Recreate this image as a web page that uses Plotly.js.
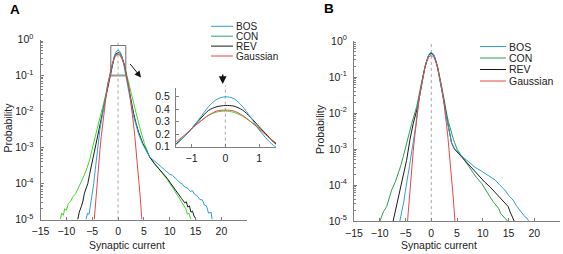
<!DOCTYPE html>
<html>
<head>
<meta charset="utf-8">
<script src="https://cdn.plot.ly/plotly-3.0.1.min.js"></script>
<style>
  html, body { margin: 0; padding: 0; background: #ffffff; }
  #chart { width: 563px; height: 254px; }
</style>
</head>
<body>
<div id="chart"></div>
<script>
// ---------------- DATA ----------------
const seriesNames = ['BOS', 'CON', 'REV', 'Gaussian'];

const xTickVals = [-15, -10, -5, 0, 5, 10, 15, 20];
const yTickVals = [1e-5, 1e-4, 1e-3, 1e-2, 1e-1, 1];
const yTickText = ['10<sup>-5</sup>', '10<sup>-4</sup>', '10<sup>-3</sup>', '10<sup>-2</sup>', '10<sup>-1</sup>', '10<sup>0</sup>'];
const insetYTickVals = [0.1, 0.2, 0.3, 0.4, 0.5];
const insetYTickText = ['0.1', '0.2', '0.3', '0.4', '0.5'];
const insetXTickVals = [-1, 0, 1];

// Gaussian reference (both panels)
const gaussX = [-4.6, -4.25, -4, -3.75, -3.5, -3.25, -3, -2.75, -2.5, -2.25, -2, -1.75, -1.5, -1.25, -1, -0.75, -0.5, -0.25, 0,
                0.25, 0.5, 0.75, 1, 1.25, 1.5, 1.75, 2, 2.25, 2.5, 2.75, 3, 3.25, 3.5, 3.75, 4, 4.25, 4.6];
const gaussY = [1.0e-5, 4.9e-5, 1.34e-4, 3.5e-4, 8.7e-4, 2.0e-3, 4.4e-3, 9.1e-3, 0.0175, 0.0317, 0.054, 0.086, 0.13, 0.183, 0.242, 0.301, 0.352, 0.386, 0.393,
                0.386, 0.352, 0.301, 0.242, 0.183, 0.13, 0.086, 0.054, 0.0317, 0.0175, 9.1e-3, 4.4e-3, 2.0e-3, 8.7e-4, 3.5e-4, 1.34e-4, 4.9e-5, 1.0e-5];

// Panel A
const aBosX = [-6.2, -5.9, -5.6, -5.3, -5.0, -4.7, -4.4, -4.1, -3.9, -3.5, -3.0, -2.5, -2.0, -1.5, -1.25, -1.0, -0.75, -0.5, -0.25, 0,
               0.25, 0.5, 0.75, 1.0, 1.25, 1.5, 2.0, 2.5, 3.0, 3.5, 4.0, 4.8, 5.5, 6.1, 6.6, 7.2, 7.7, 8.3, 9.0, 9.5, 10.0, 10.5, 10.9,
               11.4, 12.0, 12.5, 12.9, 13.4, 14.0, 14.4, 14.8, 15.3, 15.8, 16.3, 16.7, 17.1, 17.5, 18.0, 18.2];
const aBosY = [1.0e-5, 1.5e-5, 1.4e-5, 2.5e-5, 4.5e-5, 1.0e-4, 2.5e-4, 6.0e-4, 1.3e-3, 3.2e-3, 8.5e-3, 0.022, 0.055, 0.11, 0.17, 0.245, 0.33, 0.42, 0.48, 0.50,
               0.485, 0.425, 0.335, 0.235, 0.155, 0.095, 0.042, 0.017, 7.5e-3, 3.8e-3, 2.3e-3, 1.2e-3, 7.8e-4, 5.6e-4, 4.8e-4, 4.0e-4, 3.5e-4, 2.9e-4, 2.4e-4, 2.1e-4, 1.8e-4, 1.7e-4, 1.5e-4,
               1.25e-4, 1.05e-4, 9.5e-5, 8.0e-5, 7.5e-5, 6.0e-5, 6.3e-5, 5.0e-5, 4.6e-5, 3.6e-5, 3.5e-5, 2.5e-5, 2.4e-5, 1.5e-5, 1.6e-5, 1.0e-5];

const aConX = [-11.2, -10.9, -10.6, -10.3, -10.0, -9.6, -9.2, -8.7, -8.2, -7.8, -7.45, -7.0, -6.5, -6.0, -5.5, -4.9, -4.4, -3.9, -3.4, -3.05, -2.6, -2.3, -2.0, -1.65, -1.5,
               -1.25, -1.0, -0.75, -0.5, -0.25, 0, 0.25, 0.5, 0.75, 1.0, 1.25, 1.5,
               1.9, 2.55, 3.3, 4.15, 5.1, 6.1, 7.2, 8.4, 9.5, 10.6, 11.4, 12.2, 12.7, 13.1, 13.4, 13.7, 14.1];
const aConY = [1.0e-5, 1.5e-5, 1.3e-5, 2.0e-5, 1.8e-5, 2.8e-5, 3.2e-5, 4.3e-5, 5.2e-5, 7.0e-5, 8.1e-5, 1.2e-4, 1.75e-4, 2.7e-4, 4.5e-4, 1.05e-3, 2.0e-3, 3.8e-3, 7.0e-3, 0.011, 0.021, 0.033, 0.058, 0.093, 0.115,
               0.175, 0.245, 0.30, 0.35, 0.378, 0.385, 0.375, 0.345, 0.30, 0.25, 0.185, 0.125,
               0.08, 0.032, 0.011, 3.8e-3, 1.3e-3, 5.5e-4, 3.4e-4, 2.1e-4, 1.3e-4, 7.5e-5, 5.0e-5, 3.3e-5, 2.4e-5, 2.0e-5, 1.4e-5, 1.5e-5, 1.0e-5];

const aRevX = [-7.8, -7.5, -7.1, -6.8, -6.5, -6.2, -5.85, -5.5, -5.2, -4.9, -4.55, -4.2, -3.9, -3.25, -2.6, -2.0, -1.5,
               -1.25, -1.0, -0.75, -0.5, -0.25, 0, 0.25, 0.5, 0.75, 1.0, 1.25, 1.5,
               2.0, 2.5, 3.0, 3.5, 4.0, 4.8, 5.5, 6.1, 7.0, 7.7, 8.4, 9.0, 9.5, 10.1, 10.6, 11.2, 11.8, 12.3, 12.9, 13.2, 13.5, 13.8, 14.1, 14.4, 14.7, 15.1];
const aRevY = [1.0e-5, 1.6e-5, 2.3e-5, 3.2e-5, 5.4e-5, 7.5e-5, 1.0e-4, 1.8e-4, 2.9e-4, 5.2e-4, 8.5e-4, 1.5e-3, 2.5e-3, 7.2e-3, 0.021, 0.055, 0.115,
               0.17, 0.245, 0.32, 0.39, 0.42, 0.43, 0.425, 0.395, 0.335, 0.26, 0.19, 0.12,
               0.05, 0.02, 9.0e-3, 4.6e-3, 2.6e-3, 1.3e-3, 8.0e-4, 5.5e-4, 3.6e-4, 2.8e-4, 2.2e-4, 1.7e-4, 1.4e-4, 1.05e-4, 8.5e-5, 6.4e-5, 4.8e-5, 3.8e-5, 2.9e-5, 3.1e-5, 2.2e-5, 2.4e-5, 1.6e-5, 1.7e-5, 1.25e-5, 1.0e-5];

// Panel B
const bBosX = [-6.1, -5.8, -5.56, -5.3, -5.1, -4.8, -4.46, -4.2, -3.94, -3.36, -3.0, -2.5, -2.0, -1.5, -1.25, -1.0, -0.75, -0.5, -0.25, 0,
               0.25, 0.5, 0.75, 1.0, 1.25, 1.5, 2.0, 2.5, 3.0, 3.5, 3.96, 4.5, 5.26, 6.2, 7.2, 8.5, 9.8, 11.1, 12.4, 13.3, 14.3, 15.1, 15.9, 16.5, 17.2, 17.7, 18.2, 18.6, 18.9];
const bBosY = [1.0e-5, 1.5e-5, 2.5e-5, 3.6e-5, 5.9e-5, 1.0e-4, 2.1e-4, 3.5e-4, 6.2e-4, 1.8e-3, 4.5e-3, 0.02, 0.054, 0.115, 0.18, 0.25, 0.335, 0.41, 0.46, 0.48,
               0.46, 0.41, 0.33, 0.245, 0.17, 0.11, 0.05, 0.019, 7.2e-3, 2.9e-3, 1.45e-3, 1.05e-3, 7.8e-4, 5.8e-4, 4.5e-4, 3.1e-4, 2.4e-4, 1.8e-4, 1.38e-4, 1.0e-4, 7.2e-5, 5.0e-5, 3.8e-5, 2.7e-5, 2.0e-5, 1.6e-5, 1.3e-5, 1.2e-5, 1.0e-5];

const bConX = [-9.96, -9.6, -9.3, -8.66, -8.2, -7.7, -7.0, -6.4, -5.9, -5.43, -4.66, -3.8, -2.84, -2.3, -2.0, -1.5, -1.25, -1.0, -0.75, -0.5, -0.25, 0,
               0.25, 0.5, 0.75, 1.0, 1.25, 1.5, 2.0, 2.5, 3.0, 3.36, 4.33, 5.0, 5.95, 7.0, 7.9, 8.8, 9.8, 10.6, 11.4, 12.0, 12.7, 13.1, 13.5, 14.0, 14.3, 14.8];
const bConY = [1.0e-5, 1.4e-5, 1.8e-5, 2.5e-5, 4.0e-5, 7.2e-5, 1.2e-4, 2.1e-4, 3.5e-4, 6.2e-4, 1.8e-3, 5.1e-3, 0.0148, 0.032, 0.058, 0.125, 0.185, 0.25, 0.325, 0.39, 0.43, 0.44,
               0.43, 0.385, 0.325, 0.255, 0.19, 0.13, 0.06, 0.024, 9.5e-3, 5.5e-3, 1.8e-3, 1.0e-3, 6.2e-4, 3.8e-4, 2.6e-4, 1.6e-4, 1.1e-4, 7.0e-5, 4.7e-5, 3.5e-5, 2.5e-5, 2.2e-5, 1.6e-5, 1.3e-5, 1.15e-5, 1.0e-5];

const bRevX = [-7.4, -7.0, -6.7, -6.4, -6.1, -5.8, -5.43, -5.1, -4.78, -4.14, -3.5, -2.64, -2.0, -1.5, -1.25, -1.0, -0.75, -0.5, -0.25, 0,
               0.25, 0.5, 0.75, 1.0, 1.25, 1.5, 2.0, 2.5, 3.0, 3.5, 3.96, 4.5, 5.26, 6.2, 7.2, 8.3, 9.46, 10.4, 11.4, 12.3, 13.3, 14.0, 14.5, 14.95, 15.3, 15.8, 16.1];
const bRevY = [1.0e-5, 1.8e-5, 2.5e-5, 4.0e-5, 5.9e-5, 1.0e-4, 1.7e-4, 2.9e-4, 4.9e-4, 1.8e-3, 5.1e-3, 0.0148, 0.052, 0.12, 0.18, 0.25, 0.33, 0.40, 0.44, 0.455,
               0.44, 0.40, 0.33, 0.25, 0.175, 0.115, 0.052, 0.02, 7.5e-3, 3.0e-3, 1.45e-3, 1.0e-3, 7.6e-4, 5.5e-4, 4.0e-4, 2.6e-4, 1.7e-4, 1.2e-4, 8.9e-5, 6.5e-5, 4.7e-5, 3.5e-5, 2.9e-5, 2.5e-5, 1.8e-5, 1.3e-5, 1.0e-5];

// ---------------- STYLE ----------------
const FONT = 'Liberation Sans, Arial, Helvetica, sans-serif';
const colBOS = '#2f9fd8';
const colCONa = '#3fdc2a';
const colCONleg = '#2aa46a';
const colCONb = '#2e9e55';
const colREV = '#1a1a1a';
const colGauss = '#e8474a';
const axisGray = '#7f7f7f';
const dotGray = '#a8a8a8';

function tr(x, y, color, xa, ya, shape) {
  return { x: x, y: y, type: 'scatter', mode: 'lines', xaxis: xa, yaxis: ya,
           line: { color: color, width: 1, shape: shape || 'linear', smoothing: 0.8 },
           hoverinfo: 'skip', showlegend: false };
}

const traces = [
  // Panel A main
  tr(aConX, aConY, colCONa, 'x', 'y'),
  tr(aRevX, aRevY, colREV, 'x', 'y'),
  tr(aBosX, aBosY, colBOS, 'x', 'y'),
  tr(gaussX, gaussY, colGauss, 'x', 'y'),
  // Panel A inset
  tr(aConX, aConY, colCONa, 'x2', 'y2', 'spline'),
  tr(aRevX, aRevY, colREV, 'x2', 'y2', 'spline'),
  tr(aBosX, aBosY, colBOS, 'x2', 'y2', 'spline'),
  tr(gaussX, gaussY, colGauss, 'x2', 'y2', 'spline'),
  // Panel B
  tr(bConX, bConY, colCONb, 'x3', 'y3'),
  tr(bRevX, bRevY, colREV, 'x3', 'y3'),
  tr(bBosX, bBosY, colBOS, 'x3', 'y3'),
  tr(gaussX, gaussY, colGauss, 'x3', 'y3')
];

// minor log ticks
const minorVals = [];
for (let d = -5; d < 0; d++) for (let k = 2; k <= 9; k++) minorVals.push(k * Math.pow(10, d));

function mainX(domain, anchor) {
  return { domain: domain, anchor: anchor, range: [-15, 25], tickmode: 'array', tickvals: xTickVals,
           ticks: 'inside', ticklen: 3, tickcolor: axisGray, showline: true, linecolor: axisGray, linewidth: 1,
           showgrid: false, zeroline: false, tickfont: { family: FONT, size: 10.5, color: '#222' }, ticklabelstandoff: 2 };
}
function mainY(domain, anchor) {
  return { domain: domain, anchor: anchor, type: 'log', range: [-5, 0], tickmode: 'array', tickvals: yTickVals, ticktext: yTickText,
           ticks: 'inside', ticklen: 3, tickcolor: axisGray, showline: true, linecolor: axisGray, linewidth: 1,
           minor: { tickmode: 'array', tickvals: minorVals, ticks: 'inside', ticklen: 2, tickcolor: axisGray, showgrid: false },
           showgrid: false, zeroline: false, tickfont: { family: FONT, size: 10.5, color: '#222' }, ticklabelstandoff: 4 };
}

const W = 563, H = 254;
const px = v => v / W;
const py = v => (H - v) / H;

function label(text, x, y, size, angle) {
  return { text: text, xref: 'paper', yref: 'paper', x: px(x), y: py(y), xanchor: 'center', yanchor: 'middle',
           textangle: angle || 0, showarrow: false, borderpad: 0, font: { family: FONT, size: size, color: '#222' } };
}

const layout = {
  width: W, height: H,
  margin: { l: 0, r: 0, t: 0, b: 0, pad: 0 },
  paper_bgcolor: '#ffffff', plot_bgcolor: 'rgba(0,0,0,0)',
  font: { family: FONT, size: 10.5, color: '#222' },
  showlegend: false,
  xaxis: mainX([px(40.5), px(247.3)], 'y'),
  yaxis: mainY([py(219.5), py(39.5)], 'x'),
  xaxis2: { domain: [px(176), px(276)], anchor: 'y2', range: [-1.46, 1.5], tickmode: 'array', tickvals: insetXTickVals,
            ticks: 'inside', ticklen: 3, tickcolor: axisGray, showline: true, linecolor: axisGray, linewidth: 1,
            showgrid: false, zeroline: false, tickfont: { family: FONT, size: 10.5, color: '#222' }, ticklabelstandoff: 2 },
  yaxis2: { domain: [py(146.7), py(88)], anchor: 'x2', range: [0.1, 0.57], tickmode: 'array', tickvals: insetYTickVals, ticktext: insetYTickText,
            ticks: 'inside', ticklen: 3, tickcolor: axisGray, showline: true, linecolor: axisGray, linewidth: 1,
            showgrid: false, zeroline: false, tickfont: { family: FONT, size: 10.5, color: '#222' }, ticklabelstandoff: 3 },
  xaxis3: mainX([px(354), px(560)], 'y3'),
  yaxis3: mainY([py(221), py(41)], 'x3'),
  shapes: [
    // dotted zero lines
    { type: 'line', xref: 'x', yref: 'y domain', x0: 0, x1: 0, y0: 0, y1: 1, line: { color: dotGray, width: 1, dash: 'dot' }, layer: 'below' },
    { type: 'line', xref: 'x2', yref: 'y2 domain', x0: 0, x1: 0, y0: 0, y1: 1.05, line: { color: dotGray, width: 1, dash: 'dot' }, layer: 'below' },
    { type: 'line', xref: 'x3', yref: 'y3 domain', x0: 0, x1: 0, y0: 0, y1: 1, line: { color: dotGray, width: 1, dash: 'dot' }, layer: 'below' },
    // zoom box in A
    { type: 'rect', xref: 'x', yref: 'y', x0: -1.4, x1: 1.5, y0: 0.1, y1: 0.68, line: { color: '#707070', width: 1 } },
    { type: 'line', xref: 'x', yref: 'y', x0: -1.4, x1: 1.5, y0: 0.1, y1: 0.1, line: { color: '#9a9a9a', width: 2 } }
  ],
  annotations: [
    Object.assign(label('<b>A</b>', 15, 9.5, 13.5), { font: { family: FONT, size: 13.5, color: '#000' } }),
    Object.assign(label('<b>B</b>', 329, 8.5, 13.5), { font: { family: FONT, size: 13.5, color: '#000' } }),
    label('Synaptic current', 126.5, 244.5, 10.5),
    label('Synaptic current', 439, 244.5, 10.5),
    label('Probability', 7.5, 128, 10.5, -90),
    label('Probability', 320, 129, 10.5, -90),
    // diagonal arrow A
    { text: '', xref: 'x', yref: 'y', x: 4.45, y: Math.log10(0.088), axref: 'x', ayref: 'y', ax: 2.1, ay: Math.log10(0.23),
      showarrow: true, arrowhead: 2, arrowsize: 1.3, arrowwidth: 1, arrowcolor: '#111' },
    // vertical arrow over inset
    { text: '', xref: 'paper', yref: 'paper', x: px(222.7), y: py(84), ax: 0, ay: -11,
      showarrow: true, arrowhead: 2, arrowsize: 1.1, arrowwidth: 1.4, arrowcolor: '#111' }
  ]
};

// Legends drawn as line swatches + text
const legA = { x0: 211, x1: 233, tx: 235, ys: [26.3, 36.2, 46.1, 56.0], cols: [colBOS, colCONleg, colREV, colGauss], size: 10 };
const legB = { x0: 480, x1: 506, tx: 508, ys: [46.5, 58, 69.5, 81], cols: [colBOS, colCONb, colREV, colGauss], size: 10.5 };
[legA, legB].forEach(L => {
  seriesNames.forEach((name, i) => {
    layout.shapes.push({ type: 'line', xref: 'paper', yref: 'paper', x0: px(L.x0), x1: px(L.x1), y0: py(L.ys[i]), y1: py(L.ys[i]),
                         line: { color: L.cols[i], width: 1 } });
    layout.annotations.push({ text: name, xref: 'paper', yref: 'paper', x: px(L.tx), y: py(L.ys[i]), xanchor: 'left', yanchor: 'middle',
                              borderpad: 0, showarrow: false, font: { family: FONT, size: L.size, color: '#222' } });
  });
});

Plotly.newPlot('chart', traces, layout, { staticPlot: true, displayModeBar: false });
</script>
</body>
</html>
